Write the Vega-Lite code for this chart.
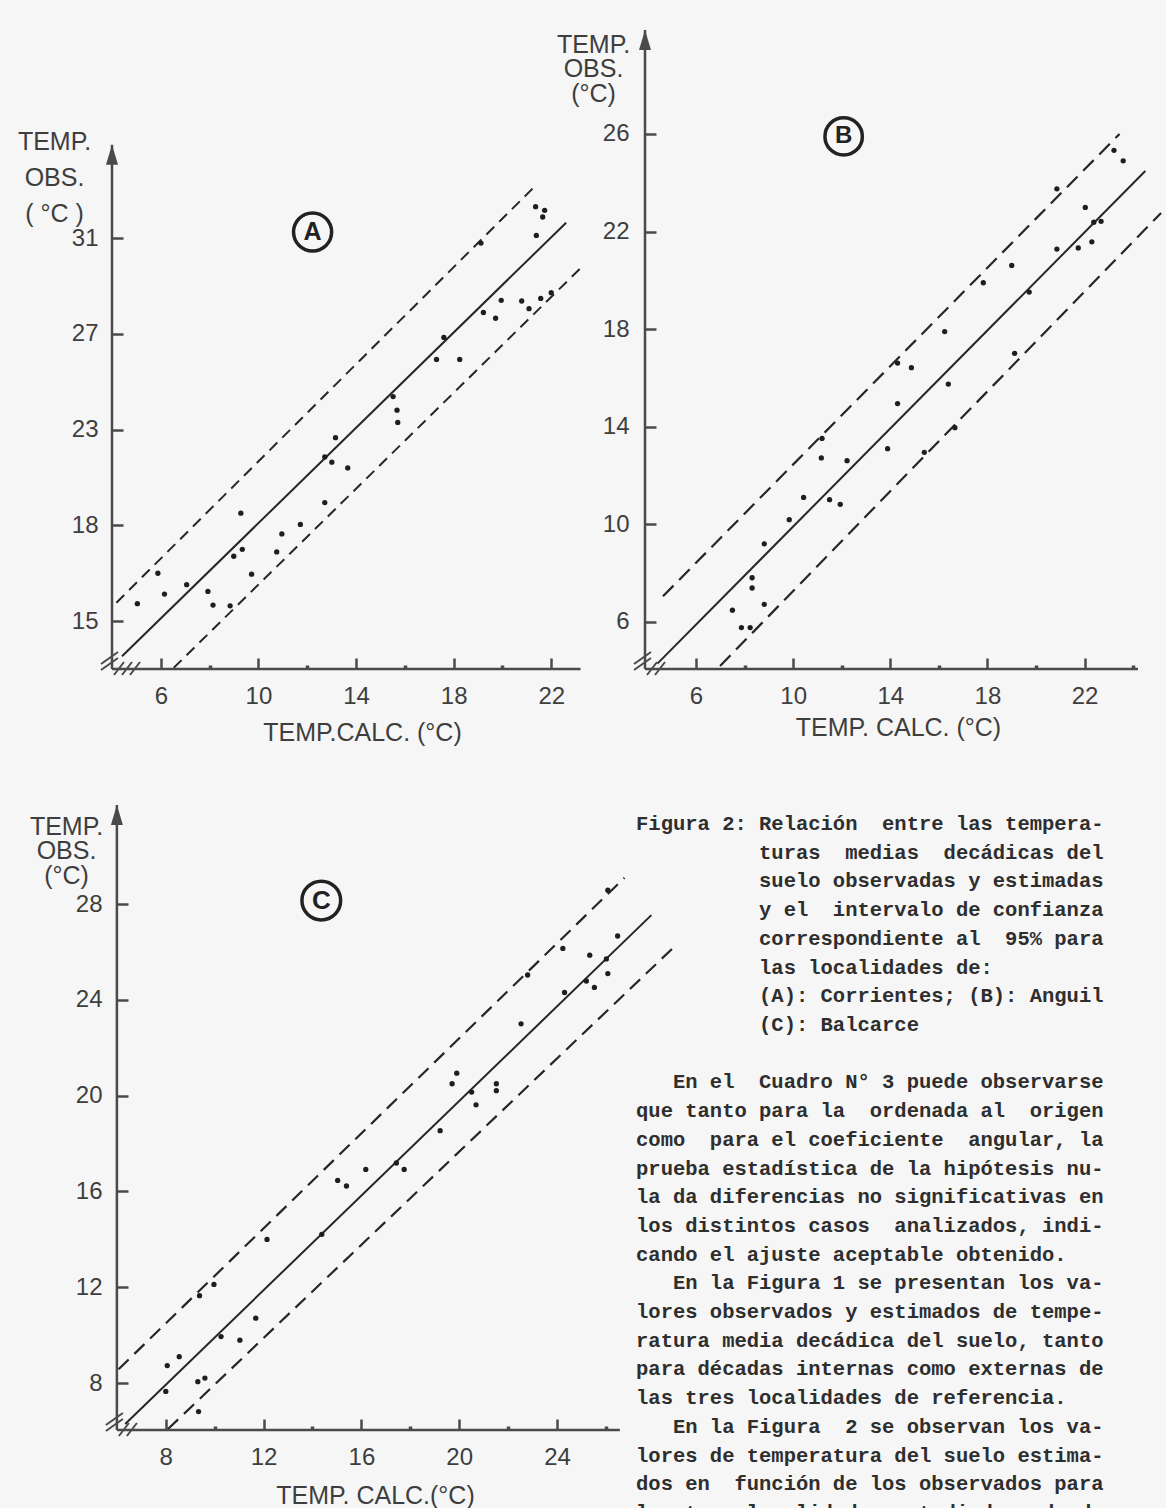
{
  "$schema": "https://vega.github.io/schema/vega-lite/v6.json",
  "background": "#f6f6f6",
  "padding": {"left": 17, "top": 28, "right": 0, "bottom": 0},
  "autosize": {"type": "pad"},
  "config": {
    "view": {"stroke": null},
    "axis": {
      "grid": false,
      "labelFont": "Liberation Sans",
      "labelFontSize": 24,
      "labelColor": "#3e3e3e",
      "titleFont": "Liberation Sans",
      "titleFontSize": 25,
      "titleFontWeight": "normal",
      "titleColor": "#3e3e3e",
      "domain": false,
      "tickColor": "#4a4a4a",
      "tickWidth": 2.5,
      "labelOverlap": false,
      "labelFlush": false,
      "labelBound": false
    }
  },
  "datasets": {
    "A_pts": [
      {"x": 5.04, "y": 15.73}, {"x": 5.88, "y": 17.0}, {"x": 6.15, "y": 16.13}, {"x": 7.06, "y": 16.52},
      {"x": 7.93, "y": 16.24}, {"x": 8.14, "y": 15.67}, {"x": 8.84, "y": 15.64}, {"x": 8.99, "y": 17.71},
      {"x": 9.34, "y": 18.0}, {"x": 9.28, "y": 19.51}, {"x": 9.72, "y": 16.96}, {"x": 10.75, "y": 17.89},
      {"x": 10.96, "y": 18.64}, {"x": 11.72, "y": 19.04}, {"x": 12.72, "y": 19.95}, {"x": 12.72, "y": 21.86},
      {"x": 13.01, "y": 21.64}, {"x": 13.16, "y": 22.66}, {"x": 13.66, "y": 21.4}, {"x": 15.52, "y": 24.38},
      {"x": 15.68, "y": 23.81}, {"x": 15.71, "y": 23.3}, {"x": 17.3, "y": 25.93}, {"x": 17.6, "y": 26.85},
      {"x": 18.25, "y": 25.93}, {"x": 19.22, "y": 27.89}, {"x": 19.72, "y": 27.65}, {"x": 19.95, "y": 28.4},
      {"x": 20.79, "y": 28.37}, {"x": 21.09, "y": 28.05}, {"x": 21.57, "y": 28.48}, {"x": 22.0, "y": 28.72},
      {"x": 19.12, "y": 30.79}, {"x": 21.39, "y": 31.11}, {"x": 21.36, "y": 32.31}, {"x": 21.73, "y": 32.16},
      {"x": 21.65, "y": 31.88}
    ],
    "A_lines": [
      {"line": "fit", "kind": "solid", "x": 4.41, "y": 13.53}, {"line": "fit", "kind": "solid", "x": 22.61, "y": 31.64},
      {"line": "up", "kind": "dashed", "x": 4.18, "y": 15.77}, {"line": "up", "kind": "dashed", "x": 21.24, "y": 33.07},
      {"line": "lo", "kind": "dashed", "x": 6.53, "y": 13.05}, {"line": "lo", "kind": "dashed", "x": 23.18, "y": 29.72}
    ],
    "A_axis": [{"x": 4.0, "xend": 23.2, "ybot": 13.0, "ytop": 34.9}],
    "A_tag": [{"x": 12.22, "y": 31.25, "tag": "A"}],
    "B_pts": [
      {"x": 7.5, "y": 6.48}, {"x": 7.87, "y": 5.77}, {"x": 8.23, "y": 5.77}, {"x": 8.31, "y": 7.81},
      {"x": 8.31, "y": 7.39}, {"x": 8.81, "y": 6.72}, {"x": 8.81, "y": 9.2}, {"x": 9.84, "y": 10.19},
      {"x": 10.43, "y": 11.1}, {"x": 11.19, "y": 13.52}, {"x": 11.16, "y": 12.72}, {"x": 11.5, "y": 11.01},
      {"x": 11.94, "y": 10.82}, {"x": 12.22, "y": 12.61}, {"x": 13.89, "y": 13.1}, {"x": 14.3, "y": 14.95},
      {"x": 14.3, "y": 16.61}, {"x": 14.87, "y": 16.42}, {"x": 15.4, "y": 12.95}, {"x": 16.24, "y": 17.9},
      {"x": 16.39, "y": 15.75}, {"x": 16.66, "y": 13.96}, {"x": 17.83, "y": 19.9}, {"x": 19.0, "y": 20.61},
      {"x": 19.12, "y": 17.01}, {"x": 19.72, "y": 19.52}, {"x": 20.86, "y": 21.28}, {"x": 20.86, "y": 23.75},
      {"x": 21.74, "y": 21.33}, {"x": 22.03, "y": 22.99}, {"x": 22.3, "y": 21.58}, {"x": 22.38, "y": 22.38},
      {"x": 22.68, "y": 22.42}, {"x": 23.21, "y": 25.33}, {"x": 23.59, "y": 24.9}
    ],
    "B_lines": [
      {"line": "fit", "kind": "solid", "x": 4.41, "y": 4.29}, {"line": "fit", "kind": "solid", "x": 24.5, "y": 24.48},
      {"line": "up", "kind": "dashed", "x": 4.64, "y": 7.05}, {"line": "up", "kind": "dashed", "x": 23.44, "y": 26.0},
      {"line": "lo", "kind": "dashed", "x": 6.99, "y": 4.19}, {"line": "lo", "kind": "dashed", "x": 25.15, "y": 22.76}
    ],
    "B_axis": [{"x": 3.9, "xend": 24.2, "ybot": 4.07, "ytop": 30.26}],
    "B_tag": [{"x": 12.08, "y": 25.9, "tag": "B"}],
    "C_pts": [
      {"x": 8.0, "y": 7.65}, {"x": 8.06, "y": 8.73}, {"x": 8.55, "y": 9.1}, {"x": 9.34, "y": 6.81},
      {"x": 9.31, "y": 8.06}, {"x": 9.6, "y": 8.21}, {"x": 9.38, "y": 11.65}, {"x": 9.97, "y": 12.12},
      {"x": 10.26, "y": 9.94}, {"x": 11.03, "y": 9.79}, {"x": 11.68, "y": 10.71}, {"x": 12.14, "y": 14.0},
      {"x": 14.38, "y": 14.21}, {"x": 15.03, "y": 16.46}, {"x": 15.39, "y": 16.23}, {"x": 16.18, "y": 16.92},
      {"x": 17.43, "y": 17.19}, {"x": 17.75, "y": 16.92}, {"x": 19.22, "y": 18.54}, {"x": 19.71, "y": 20.5},
      {"x": 19.9, "y": 20.94}, {"x": 20.51, "y": 20.15}, {"x": 20.69, "y": 19.62}, {"x": 21.52, "y": 20.5},
      {"x": 21.52, "y": 20.21}, {"x": 22.53, "y": 23.0}, {"x": 22.8, "y": 25.04}, {"x": 24.31, "y": 24.31},
      {"x": 24.24, "y": 26.15}, {"x": 25.34, "y": 25.87}, {"x": 25.2, "y": 24.79}, {"x": 25.53, "y": 24.52},
      {"x": 26.02, "y": 25.71}, {"x": 26.08, "y": 25.1}, {"x": 26.08, "y": 28.58}, {"x": 26.48, "y": 26.67}
    ],
    "C_lines": [
      {"line": "fit", "kind": "solid", "x": 6.34, "y": 6.29}, {"line": "fit", "kind": "solid", "x": 27.86, "y": 27.54},
      {"line": "up", "kind": "dashed", "x": 6.07, "y": 8.58}, {"line": "up", "kind": "dashed", "x": 26.76, "y": 29.1},
      {"line": "lo", "kind": "dashed", "x": 8.09, "y": 6.08}, {"line": "lo", "kind": "dashed", "x": 28.87, "y": 26.29}
    ],
    "C_axis": [{"x": 6.0, "xend": 26.57, "ybot": 6.04, "ytop": 32.14}],
    "C_tag": [{"x": 14.36, "y": 28.15, "tag": "C"}],
    "body": [
      {"line": 0, "text": "Figura\u00a02:\u00a0Relación\u00a0\u00a0entre\u00a0las\u00a0tempera-"},
      {"line": 1, "text": "\u200b\u00a0\u00a0\u00a0\u00a0\u00a0\u00a0\u00a0\u00a0\u00a0\u00a0turas\u00a0\u00a0medias\u00a0\u00a0decádicas\u00a0del"},
      {"line": 2, "text": "\u200b\u00a0\u00a0\u00a0\u00a0\u00a0\u00a0\u00a0\u00a0\u00a0\u00a0suelo\u00a0observadas\u00a0y\u00a0estimadas"},
      {"line": 3, "text": "\u200b\u00a0\u00a0\u00a0\u00a0\u00a0\u00a0\u00a0\u00a0\u00a0\u00a0y\u00a0el\u00a0\u00a0intervalo\u00a0de\u00a0confianza"},
      {"line": 4, "text": "\u200b\u00a0\u00a0\u00a0\u00a0\u00a0\u00a0\u00a0\u00a0\u00a0\u00a0correspondiente\u00a0al\u00a0\u00a095%\u00a0para"},
      {"line": 5, "text": "\u200b\u00a0\u00a0\u00a0\u00a0\u00a0\u00a0\u00a0\u00a0\u00a0\u00a0las\u00a0localidades\u00a0de:"},
      {"line": 6, "text": "\u200b\u00a0\u00a0\u00a0\u00a0\u00a0\u00a0\u00a0\u00a0\u00a0\u00a0(A):\u00a0Corrientes;\u00a0(B):\u00a0Anguil"},
      {"line": 7, "text": "\u200b\u00a0\u00a0\u00a0\u00a0\u00a0\u00a0\u00a0\u00a0\u00a0\u00a0(C):\u00a0Balcarce"},
      {"line": 9, "text": "\u200b\u00a0\u00a0\u00a0En\u00a0el\u00a0\u00a0Cuadro\u00a0N°\u00a03\u00a0puede\u00a0observarse"},
      {"line": 10, "text": "que\u00a0tanto\u00a0para\u00a0la\u00a0\u00a0ordenada\u00a0al\u00a0\u00a0origen"},
      {"line": 11, "text": "como\u00a0\u00a0para\u00a0el\u00a0coeficiente\u00a0\u00a0angular,\u00a0la"},
      {"line": 12, "text": "prueba\u00a0estadística\u00a0de\u00a0la\u00a0hipótesis\u00a0nu-"},
      {"line": 13, "text": "la\u00a0da\u00a0diferencias\u00a0no\u00a0significativas\u00a0en"},
      {"line": 14, "text": "los\u00a0distintos\u00a0casos\u00a0\u00a0analizados,\u00a0indi-"},
      {"line": 15, "text": "cando\u00a0el\u00a0ajuste\u00a0aceptable\u00a0obtenido."},
      {"line": 16, "text": "\u200b\u00a0\u00a0\u00a0En\u00a0la\u00a0Figura\u00a01\u00a0se\u00a0presentan\u00a0los\u00a0va-"},
      {"line": 17, "text": "lores\u00a0observados\u00a0y\u00a0estimados\u00a0de\u00a0tempe-"},
      {"line": 18, "text": "ratura\u00a0media\u00a0decádica\u00a0del\u00a0suelo,\u00a0tanto"},
      {"line": 19, "text": "para\u00a0décadas\u00a0internas\u00a0como\u00a0externas\u00a0de"},
      {"line": 20, "text": "las\u00a0tres\u00a0localidades\u00a0de\u00a0referencia."},
      {"line": 21, "text": "\u200b\u00a0\u00a0\u00a0En\u00a0la\u00a0Figura\u00a0\u00a02\u00a0se\u00a0observan\u00a0los\u00a0va-"},
      {"line": 22, "text": "lores\u00a0de\u00a0temperatura\u00a0del\u00a0suelo\u00a0estima-"},
      {"line": 23, "text": "dos\u00a0en\u00a0\u00a0función\u00a0de\u00a0los\u00a0observados\u00a0para"},
      {"line": 24, "text": "las\u00a0tres\u00a0localidades\u00a0estudiadas,\u00a0donde"}
    ]
  },
  "columns": 2,
  "align": "none",
  "bounds": "flush",
  "spacing": {"row": 136, "column": 13},
  "concat": [
    {
      "width": 520, "height": 639,
      "resolve": {"axis": {"x": "independent", "y": "independent"}},
      "layer": [
        {
          "data": {"name": "A_lines"},
          "transform": [{"filter": "datum.kind == 'solid'"}],
          "mark": {"type": "line", "color": "#262626", "strokeWidth": 2},
          "encoding": {
            "x": {"field": "x", "type": "quantitative", "scale": {"domain": [4.0, 25.31], "nice": false, "zero": false}, "axis": null},
            "y": {"field": "y", "type": "quantitative", "scale": {"domain": [13.0, 39.69], "nice": false, "zero": false}, "axis": null},
            "detail": {"field": "line", "type": "nominal"}
          }
        },
        {
          "data": {"name": "A_lines"},
          "transform": [{"filter": "datum.kind == 'dashed'"}],
          "mark": {"type": "line", "color": "#262626", "strokeWidth": 2, "strokeDash": [11, 7]},
          "encoding": {
            "x": {"field": "x", "type": "quantitative", "scale": {"domain": [4.0, 25.31], "nice": false, "zero": false}, "axis": null},
            "y": {"field": "y", "type": "quantitative", "scale": {"domain": [13.0, 39.69], "nice": false, "zero": false}, "axis": null},
            "detail": {"field": "line", "type": "nominal"}
          }
        },
        {
          "data": {"name": "A_pts"},
          "mark": {"type": "point", "filled": true, "size": 28, "color": "#1e1e1e", "opacity": 1},
          "encoding": {
            "x": {"field": "x", "type": "quantitative", "scale": {"domain": [4.0, 25.31], "nice": false, "zero": false},
              "axis": {"orient": "bottom", "values": [6, 10, 14, 18, 22], "tickSize": -11, "labelPadding": 26,
                "title": "TEMP.CALC. (°C)", "titleX": 250, "titleY": 63, "titleAlign": "center", "titleBaseline": "middle", "titleAngle": 0}},
            "y": {"field": "y", "type": "quantitative", "scale": {"domain": [13.0, 39.69], "nice": false, "zero": false},
              "axis": {"orient": "left", "values": [15, 19, 23, 27, 31], "labelExpr": "datum.value == 19 ? '18' : datum.label", "tickSize": -11, "labelPadding": 25,
                "title": ["TEMP.", "OBS.", "( °C )"], "titleAngle": 0, "titleAlign": "center", "titleBaseline": "top", "titleX": -58, "titleY": 99, "titleLineHeight": 36}}
          }
        },
        {
          "data": {"name": "A_axis"},
          "mark": {"type": "rule", "color": "#4a4a4a", "strokeWidth": 2.5},
          "encoding": {
            "x": {"field": "x", "type": "quantitative", "scale": {"domain": [4.0, 25.31], "nice": false, "zero": false},
              "axis": {"orient": "bottom", "values": [8, 12, 16, 20], "labels": false, "tickSize": -4, "tickWidth": 3.5, "title": null}},
            "y": {"field": "ybot", "type": "quantitative", "scale": {"domain": [13.0, 39.69], "nice": false, "zero": false}, "axis": null},
            "y2": {"field": "ytop"}
          }
        },
        {
          "data": {"name": "A_axis"},
          "mark": {"type": "rule", "color": "#4a4a4a", "strokeWidth": 2.5},
          "encoding": {
            "x": {"field": "x", "type": "quantitative", "scale": {"domain": [4.0, 25.31], "nice": false, "zero": false}, "axis": null},
            "x2": {"field": "xend"},
            "y": {"field": "ybot", "type": "quantitative", "scale": {"domain": [13.0, 39.69], "nice": false, "zero": false}, "axis": null}
          }
        },
        {
          "data": {"name": "A_axis"},
          "mark": {"type": "point", "shape": "M0,0L-0.3,1L0.3,1Z", "size": 1600, "filled": true, "color": "#4a4a4a", "opacity": 1},
          "encoding": {
            "x": {"field": "x", "type": "quantitative", "scale": {"domain": [4.0, 25.31], "nice": false, "zero": false}, "axis": null},
            "y": {"field": "ytop", "type": "quantitative", "scale": {"domain": [13.0, 39.69], "nice": false, "zero": false}, "axis": null}
          }
        },
        {
          "data": {"name": "A_axis"},
          "mark": {"type": "point", "shape": "M-0.55,-0.25L0.3,-0.85M-0.55,0.05L0.3,-0.55M0.1,0.3L0.6,-0.35M0.5,0.3L1.0,-0.35M0.9,0.3L1.4,-0.35", "size": 1600, "filled": false, "strokeWidth": 2, "color": "#4a4a4a", "opacity": 1},
          "encoding": {
            "x": {"field": "x", "type": "quantitative", "scale": {"domain": [4.0, 25.31], "nice": false, "zero": false}, "axis": null},
            "y": {"field": "ybot", "type": "quantitative", "scale": {"domain": [13.0, 39.69], "nice": false, "zero": false}, "axis": null}
          }
        },
        {
          "data": {"name": "A_tag"},
          "mark": {"type": "point", "shape": "circle", "size": 1450, "filled": false, "strokeWidth": 3.5, "color": "#222", "opacity": 1},
          "encoding": {
            "x": {"field": "x", "type": "quantitative", "scale": {"domain": [4.0, 25.31], "nice": false, "zero": false}, "axis": null},
            "y": {"field": "y", "type": "quantitative", "scale": {"domain": [13.0, 39.69], "nice": false, "zero": false}, "axis": null}
          }
        },
        {
          "data": {"name": "A_tag"},
          "mark": {"type": "text", "font": "Liberation Sans", "fontWeight": "bold", "fontSize": 25, "color": "#222", "align": "center", "baseline": "middle"},
          "encoding": {
            "x": {"field": "x", "type": "quantitative", "scale": {"domain": [4.0, 25.31], "nice": false, "zero": false}, "axis": null},
            "y": {"field": "y", "type": "quantitative", "scale": {"domain": [13.0, 39.69], "nice": false, "zero": false}, "axis": null},
            "text": {"field": "tag"}
          }
        }
      ]
    },
    {
      "width": 493, "height": 639,
      "resolve": {"axis": {"x": "independent", "y": "independent"}},
      "layer": [
        {
          "data": {"name": "B_lines"},
          "transform": [{"filter": "datum.kind == 'solid'"}],
          "mark": {"type": "line", "color": "#262626", "strokeWidth": 2},
          "encoding": {
            "x": {"field": "x", "type": "quantitative", "scale": {"domain": [3.9, 24.2], "nice": false, "zero": false}, "axis": null},
            "y": {"field": "y", "type": "quantitative", "scale": {"domain": [4.07, 30.26], "nice": false, "zero": false}, "axis": null},
            "detail": {"field": "line", "type": "nominal"}
          }
        },
        {
          "data": {"name": "B_lines"},
          "transform": [{"filter": "datum.kind == 'dashed'"}],
          "mark": {"type": "line", "color": "#262626", "strokeWidth": 2.2, "strokeDash": [15, 8]},
          "encoding": {
            "x": {"field": "x", "type": "quantitative", "scale": {"domain": [3.9, 24.2], "nice": false, "zero": false}, "axis": null},
            "y": {"field": "y", "type": "quantitative", "scale": {"domain": [4.07, 30.26], "nice": false, "zero": false}, "axis": null},
            "detail": {"field": "line", "type": "nominal"}
          }
        },
        {
          "data": {"name": "B_pts"},
          "mark": {"type": "point", "filled": true, "size": 28, "color": "#1e1e1e", "opacity": 1},
          "encoding": {
            "x": {"field": "x", "type": "quantitative", "scale": {"domain": [3.9, 24.2], "nice": false, "zero": false},
              "axis": {"orient": "bottom", "values": [6, 10, 14, 18, 22], "tickSize": -11, "labelPadding": 26,
                "title": "TEMP. CALC. (°C)", "titleX": 253, "titleY": 58, "titleAlign": "center", "titleBaseline": "middle", "titleAngle": 0}},
            "y": {"field": "y", "type": "quantitative", "scale": {"domain": [4.07, 30.26], "nice": false, "zero": false},
              "axis": {"orient": "left", "values": [6, 10, 14, 18, 22, 26], "tickSize": -11, "labelPadding": 27,
                "title": ["TEMP.", "OBS.", "(°C)"], "titleAngle": 0, "titleAlign": "center", "titleBaseline": "top", "titleX": -52, "titleY": 2, "titleLineHeight": 24.5}}
          }
        },
        {
          "data": {"name": "B_axis"},
          "mark": {"type": "rule", "color": "#4a4a4a", "strokeWidth": 2.5},
          "encoding": {
            "x": {"field": "x", "type": "quantitative", "scale": {"domain": [3.9, 24.2], "nice": false, "zero": false},
              "axis": {"orient": "bottom", "values": [8, 12, 16, 20, 24], "labels": false, "tickSize": -4, "tickWidth": 3.5, "title": null}},
            "y": {"field": "ybot", "type": "quantitative", "scale": {"domain": [4.07, 30.26], "nice": false, "zero": false}, "axis": null},
            "y2": {"field": "ytop"}
          }
        },
        {
          "data": {"name": "B_axis"},
          "mark": {"type": "rule", "color": "#4a4a4a", "strokeWidth": 2.5},
          "encoding": {
            "x": {"field": "x", "type": "quantitative", "scale": {"domain": [3.9, 24.2], "nice": false, "zero": false}, "axis": null},
            "x2": {"field": "xend"},
            "y": {"field": "ybot", "type": "quantitative", "scale": {"domain": [4.07, 30.26], "nice": false, "zero": false}, "axis": null}
          }
        },
        {
          "data": {"name": "B_axis"},
          "mark": {"type": "point", "shape": "M0,0L-0.3,1L0.3,1Z", "size": 1600, "filled": true, "color": "#4a4a4a", "opacity": 1},
          "encoding": {
            "x": {"field": "x", "type": "quantitative", "scale": {"domain": [3.9, 24.2], "nice": false, "zero": false}, "axis": null},
            "y": {"field": "ytop", "type": "quantitative", "scale": {"domain": [4.07, 30.26], "nice": false, "zero": false}, "axis": null}
          }
        },
        {
          "data": {"name": "B_axis"},
          "mark": {"type": "point", "shape": "M-0.55,-0.25L0.3,-0.85M-0.55,0.05L0.3,-0.55M0.1,0.3L0.6,-0.35M0.5,0.3L1.0,-0.35", "size": 1600, "filled": false, "strokeWidth": 2, "color": "#4a4a4a", "opacity": 1},
          "encoding": {
            "x": {"field": "x", "type": "quantitative", "scale": {"domain": [3.9, 24.2], "nice": false, "zero": false}, "axis": null},
            "y": {"field": "ybot", "type": "quantitative", "scale": {"domain": [4.07, 30.26], "nice": false, "zero": false}, "axis": null}
          }
        },
        {
          "data": {"name": "B_tag"},
          "mark": {"type": "point", "shape": "circle", "size": 1400, "filled": false, "strokeWidth": 3.5, "color": "#222", "opacity": 1},
          "encoding": {
            "x": {"field": "x", "type": "quantitative", "scale": {"domain": [3.9, 24.2], "nice": false, "zero": false}, "axis": null},
            "y": {"field": "y", "type": "quantitative", "scale": {"domain": [4.07, 30.26], "nice": false, "zero": false}, "axis": null}
          }
        },
        {
          "data": {"name": "B_tag"},
          "mark": {"type": "text", "font": "Liberation Sans", "fontWeight": "bold", "fontSize": 24, "color": "#222", "align": "center", "baseline": "middle"},
          "encoding": {
            "x": {"field": "x", "type": "quantitative", "scale": {"domain": [3.9, 24.2], "nice": false, "zero": false}, "axis": null},
            "y": {"field": "y", "type": "quantitative", "scale": {"domain": [4.07, 30.26], "nice": false, "zero": false}, "axis": null},
            "text": {"field": "tag"}
          }
        }
      ]
    },
    {
      "width": 511, "height": 625,
      "resolve": {"axis": {"x": "independent", "y": "independent"}},
      "layer": [
        {
          "data": {"name": "C_lines"},
          "transform": [{"filter": "datum.kind == 'solid'"}],
          "mark": {"type": "line", "color": "#262626", "strokeWidth": 2},
          "encoding": {
            "x": {"field": "x", "type": "quantitative", "scale": {"domain": [5.8, 26.7], "nice": false, "zero": false}, "axis": null},
            "y": {"field": "y", "type": "quantitative", "scale": {"domain": [6.04, 32.14], "nice": false, "zero": false}, "axis": null},
            "detail": {"field": "line", "type": "nominal"}
          }
        },
        {
          "data": {"name": "C_lines"},
          "transform": [{"filter": "datum.kind == 'dashed'"}],
          "mark": {"type": "line", "color": "#262626", "strokeWidth": 2.2, "strokeDash": [14, 8]},
          "encoding": {
            "x": {"field": "x", "type": "quantitative", "scale": {"domain": [5.8, 26.7], "nice": false, "zero": false}, "axis": null},
            "y": {"field": "y", "type": "quantitative", "scale": {"domain": [6.04, 32.14], "nice": false, "zero": false}, "axis": null},
            "detail": {"field": "line", "type": "nominal"}
          }
        },
        {
          "data": {"name": "C_pts"},
          "mark": {"type": "point", "filled": true, "size": 28, "color": "#1e1e1e", "opacity": 1},
          "encoding": {
            "x": {"field": "x", "type": "quantitative", "scale": {"domain": [5.8, 26.7], "nice": false, "zero": false},
              "axis": {"orient": "bottom", "values": [8, 12, 16, 20, 24], "tickSize": -11, "labelPadding": 26,
                "title": "TEMP. CALC.(°C)", "titleX": 263, "titleY": 65, "titleAlign": "center", "titleBaseline": "middle", "titleAngle": 0}},
            "y": {"field": "y", "type": "quantitative", "scale": {"domain": [6.04, 32.14], "nice": false, "zero": false},
              "axis": {"orient": "left", "values": [8, 12, 16, 20, 24, 28], "offset": -5, "tickSize": -11, "labelPadding": 26,
                "title": ["TEMP.", "OBS.", "(°C)"], "titleAngle": 0, "titleAlign": "center", "titleBaseline": "top", "titleX": -51, "titleY": 9, "titleLineHeight": 24.5}}
          }
        },
        {
          "data": {"name": "C_axis"},
          "mark": {"type": "rule", "color": "#4a4a4a", "strokeWidth": 2.5},
          "encoding": {
            "x": {"field": "x", "type": "quantitative", "scale": {"domain": [5.8, 26.7], "nice": false, "zero": false},
              "axis": {"orient": "bottom", "values": [10, 14, 18, 22, 26], "labels": false, "tickSize": -4, "tickWidth": 3.5, "title": null}},
            "y": {"field": "ybot", "type": "quantitative", "scale": {"domain": [6.04, 32.14], "nice": false, "zero": false}, "axis": null},
            "y2": {"field": "ytop"}
          }
        },
        {
          "data": {"name": "C_axis"},
          "mark": {"type": "rule", "color": "#4a4a4a", "strokeWidth": 2.5},
          "encoding": {
            "x": {"field": "x", "type": "quantitative", "scale": {"domain": [5.8, 26.7], "nice": false, "zero": false}, "axis": null},
            "x2": {"field": "xend"},
            "y": {"field": "ybot", "type": "quantitative", "scale": {"domain": [6.04, 32.14], "nice": false, "zero": false}, "axis": null}
          }
        },
        {
          "data": {"name": "C_axis"},
          "mark": {"type": "point", "shape": "M0,0L-0.3,1L0.3,1Z", "size": 1600, "filled": true, "color": "#4a4a4a", "opacity": 1},
          "encoding": {
            "x": {"field": "x", "type": "quantitative", "scale": {"domain": [5.8, 26.7], "nice": false, "zero": false}, "axis": null},
            "y": {"field": "ytop", "type": "quantitative", "scale": {"domain": [6.04, 32.14], "nice": false, "zero": false}, "axis": null}
          }
        },
        {
          "data": {"name": "C_axis"},
          "mark": {"type": "point", "shape": "M-0.55,-0.25L0.3,-0.85M-0.55,0.05L0.3,-0.55M0.1,0.3L0.6,-0.35M0.5,0.3L1.0,-0.35", "size": 1600, "filled": false, "strokeWidth": 2, "color": "#4a4a4a", "opacity": 1},
          "encoding": {
            "x": {"field": "x", "type": "quantitative", "scale": {"domain": [5.8, 26.7], "nice": false, "zero": false}, "axis": null},
            "y": {"field": "ybot", "type": "quantitative", "scale": {"domain": [6.04, 32.14], "nice": false, "zero": false}, "axis": null}
          }
        },
        {
          "data": {"name": "C_tag"},
          "mark": {"type": "point", "shape": "circle", "size": 1500, "filled": false, "strokeWidth": 3.5, "color": "#222", "opacity": 1},
          "encoding": {
            "x": {"field": "x", "type": "quantitative", "scale": {"domain": [5.8, 26.7], "nice": false, "zero": false}, "axis": null},
            "y": {"field": "y", "type": "quantitative", "scale": {"domain": [6.04, 32.14], "nice": false, "zero": false}, "axis": null}
          }
        },
        {
          "data": {"name": "C_tag"},
          "mark": {"type": "text", "font": "Liberation Sans", "fontWeight": "bold", "fontSize": 26, "color": "#222", "align": "center", "baseline": "middle"},
          "encoding": {
            "x": {"field": "x", "type": "quantitative", "scale": {"domain": [5.8, 26.7], "nice": false, "zero": false}, "axis": null},
            "y": {"field": "y", "type": "quantitative", "scale": {"domain": [6.04, 32.14], "nice": false, "zero": false}, "axis": null},
            "text": {"field": "tag"}
          }
        }
      ]
    },
    {
      "width": 467, "height": 708,
      "data": {"name": "body"},
      "mark": {"type": "text", "font": "Liberation Mono", "fontWeight": "bold", "fontSize": 20.5, "color": "#2e2e2e", "align": "left", "baseline": "middle"},
      "encoding": {
        "x": {"datum": 0, "type": "quantitative", "scale": {"domain": [0.73, 38.73], "nice": false, "zero": false}, "axis": null},
        "y": {"field": "line", "type": "quantitative", "scale": {"domain": [-0.662, 24], "reverse": true, "nice": false, "zero": false}, "axis": null},
        "text": {"field": "text"}
      }
    }
  ]
}
